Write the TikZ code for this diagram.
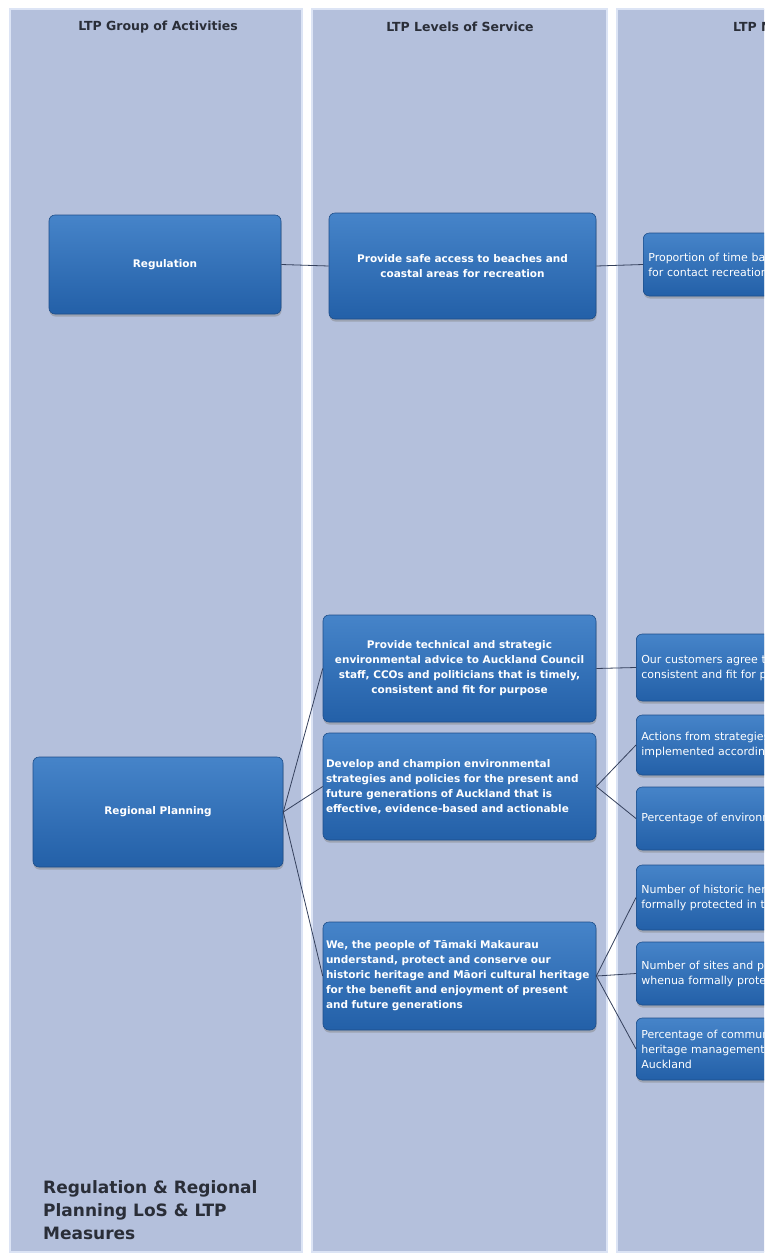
\documentclass[tikz,border=0pt]{standalone}
\usepackage{fontspec}
\setmainfont{DejaVu Sans}
\usetikzlibrary{shadows}
\definecolor{panel}{HTML}{B4C0DC}
\definecolor{gapc}{HTML}{DCE4F5}
\definecolor{boxtop}{HTML}{4684C9}
\definecolor{boxbot}{HTML}{2360A8}
\definecolor{boxedge}{HTML}{1E4E8A}
\definecolor{hdr}{HTML}{2A2E38}
\definecolor{linkc}{HTML}{34405C}
\begin{document}
\begin{tikzpicture}[x=1pt,y=-1pt,
  panelbox/.style={fill=panel, draw=gapc, line width=2pt},
  bluebox/.style={rounded corners=6pt, top color=boxtop, bottom color=boxbot,
    draw=boxedge, line width=0.6pt,
    drop shadow={shadow xshift=0.5pt, shadow yshift=-2.5pt, opacity=0.45},
    text=white, font=\bfseries\fontsize{10.5}{15}\selectfont, inner sep=3pt},
  measbox/.style={bluebox, anchor=west, minimum width=420pt, text width=410pt,
    inner xsep=2pt, align=left, font=\fontsize{11}{15}\selectfont},
  hdrtext/.style={font=\bfseries\fontsize{12.5}{14}\selectfont, text=hdr},
  link/.style={draw=linkc, line width=0.8pt}
]
\useasboundingbox (0,0) rectangle (764,1256);
\clip (0,0) rectangle (764,1256);
\fill[white] (0,0) rectangle (764,1256);
% panels
\draw[panelbox] (10,9) rectangle (302,1252);
\draw[panelbox] (312,9) rectangle (607,1252);
\draw[panelbox] (617,9) rectangle (930,1252);
% headers
\node[hdrtext] (h1) at (158,27) {LTP Group of Activities};
\node[hdrtext] (h2) at (460,27) {LTP Levels of Service};
\node[hdrtext] (h3) at (781,27) {LTP Measures};
% title
\node[anchor=north west, align=left, text=hdr, inner sep=0pt,
  font=\bfseries\fontsize{17}{23}\selectfont] (title) at (43,1180)
  {Regulation \& Regional\\Planning LoS \& LTP\\Measures};
% group boxes
\node[bluebox, minimum width=232pt, minimum height=99pt] (reg) at (165,264.5) {Regulation};
\node[bluebox, minimum width=250pt, minimum height=110pt] (rp) at (158,812) {Regional Planning};
% levels of service
\node[bluebox, minimum width=267pt, minimum height=106pt, align=center] (los) at (462.5,266)
  {Provide safe access to beaches and\\coastal areas for recreation};
\node[bluebox, minimum width=273pt, minimum height=107pt, align=center] (la) at (459.5,668.5)
  {Provide technical and strategic\\environmental advice to Auckland Council\\staff, CCOs and politicians that is timely,\\consistent and fit for purpose};
\node[bluebox, minimum width=273pt, minimum height=107pt, text width=267pt, inner xsep=3pt, align=left] (lb) at (459.5,786.5)
  {Develop and champion environmental\\strategies and policies for the present and\\future generations of Auckland that is\\effective, evidence-based and actionable};
\node[bluebox, minimum width=273pt, minimum height=108pt, text width=267pt, inner xsep=3pt, align=left] (lc) at (459.5,976)
  {We, the people of Tāmaki Makaurau\\understand, protect and conserve our\\historic heritage and Māori cultural heritage\\for the benefit and enjoyment of present\\and future generations};
% measures
\node[measbox, minimum height=63pt] (m1) at (643,264.5)
  {Proportion of time bathing beaches are suitable\\for contact recreation};
\node[measbox, minimum height=67pt] (m2) at (636,667.5)
  {Our customers agree that advice is timely,\\consistent and fit for purpose};
\node[measbox, minimum height=60pt] (m3) at (636,745)
  {Actions from strategies and policies are\\implemented according to plan};
\node[measbox, minimum height=63pt] (m4) at (636,818.5)
  {Percentage of environmental strategies};
\node[measbox, minimum height=65pt] (m5) at (636,897.5)
  {Number of historic heritage places\\formally protected in the Unitary Plan};
\node[measbox, minimum height=63pt] (m6) at (636,973.5)
  {Number of sites and places of significance to mana\\whenua formally protected};
\node[measbox, minimum height=62pt] (m7) at (636,1049)
  {Percentage of community satisfied with\\heritage management and protection in\\Auckland};
% connectors
\draw[link] (reg.east) -- (los.west);
\draw[link] (los.east) -- (m1.west);
\draw[link] (rp.east) -- (la.west);
\draw[link] (rp.east) -- (lb.west);
\draw[link] (rp.east) -- (lc.west);
\draw[link] (la.east) -- (m2.west);
\draw[link] (lb.east) -- (m3.west);
\draw[link] (lb.east) -- (m4.west);
\draw[link] (lc.east) -- (m5.west);
\draw[link] (lc.east) -- (m6.west);
\draw[link] (lc.east) -- (m7.west);
\end{tikzpicture}
\end{document}
